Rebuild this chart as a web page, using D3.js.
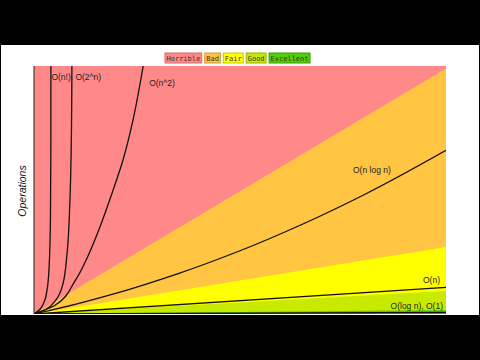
<!DOCTYPE html>
<html>
<head>
<meta charset="utf-8">
<script src="https://cdn.jsdelivr.net/npm/d3@7"></script>
<style>
  body { margin: 0; background: #000; }
  svg { display: block; }
</style>
</head>
<body>
<svg width="480" height="360"></svg>
<script>
// legend
var legendLabels = ["Horrible", "Bad", "Fair", "Good", "Excellent"];
var legendColors = ["#ff8989", "#ffc543", "#ffff00", "#c8ea00", "#53d000"];
var legendBorders = ["#d86a6a", "#d89a30", "#c8c800", "#98b000", "#3a9a00"];

// zones: upper edge of each zone at the right side (percent of height)
var zoneNames = ["Horrible", "Bad", "Fair", "Good", "Excellent"];
var zoneTops = [100, 99, 27, 9.3, 1.6];

// curves (x, y in percent of the plot)
var curveNames = ["O(n!)", "O(2^n)", "O(n^2)", "O(n log n)", "O(n)", "O(log n), O(1)"];
var factorialPts = [[0, 0], [1.5, 2], [2.5, 5], [3.2, 10], [3.7, 20], [4, 40], [4.1, 70], [4.1, 100]];
var expPts = [[0, 0], [3, 2], [5, 5], [7, 12], [8, 24], [8.7, 45], [9.1, 75], [9.2, 100]];
var squarePts = [[0, 0], [5, 3.4], [10, 13.5], [13, 23], [16, 35.1], [19, 49], [21.6, 62.1], [24, 78], [26.5, 100]];
var nlognPts = [[0, 0], [10, 3.9], [20, 8.4], [35, 16.3], [50, 25.5], [65, 36.1], [80, 48], [100, 66]];
var linearPts = [[0, 0], [100, 10.7]];
var logPts = [[0, 0], [100, 0.6]];

var svg = d3.select("svg"),
    margin = {left: 34, right: 34, top: 66, bottom: 46},
    width = 480 - margin.left - margin.right,
    height = 360 - margin.top - margin.bottom;

// white frame of the picture
svg.append("rect")
    .attr("x", 1).attr("y", 45)
    .attr("width", 478).attr("height", 270)
    .attr("fill", "#fff");

var x = d3.scaleLinear().domain([0, 100]).range([margin.left, margin.left + width]);
var y = d3.scaleLinear().domain([0, 100]).range([margin.top + height, margin.top]);

svg.append("clipPath").attr("id", "plot")
  .append("rect")
    .attr("x", margin.left).attr("y", margin.top)
    .attr("width", width).attr("height", height);

var g = svg.append("g").attr("clip-path", "url(#plot)");

// zones
g.selectAll("path.zone")
    .data(zoneTops)
    .enter().append("path")
    .attr("class", "zone")
    .attr("fill", function(d, i) { return legendColors[i]; })
    .attr("d", function(d, i) {
      if (i === 0) return "M" + x(0) + "," + y(0) + "L" + x(0) + "," + y(100) + "L" + x(100) + "," + y(100) + "L" + x(100) + "," + y(0) + "Z";
      return d3.line()([[x(0), y(0)], [x(100), y(d)], [x(100), y(0)]]) + "Z";
    });

var line = d3.line()
    .x(function(d) { return x(d[0]); })
    .y(function(d) { return y(d[1]); })
    .curve(d3.curveMonotoneY);

var curves = [factorialPts, expPts, squarePts, nlognPts, linearPts, logPts];

g.selectAll("path.curve")
    .data(curves)
    .enter().append("path")
    .attr("class", "curve")
    .attr("fill", "none")
    .attr("stroke", "#111")
    .attr("stroke-width", 1.3)
    .attr("d", line);

// y axis line
svg.append("line")
    .attr("x1", x(0)).attr("x2", x(0))
    .attr("y1", y(0)).attr("y2", y(100))
    .attr("stroke", "#222").attr("stroke-width", 1);

// curve labels
var labelFont = "'Liberation Sans', Arial, Helvetica, sans-serif";
var labelPos = [
  {x: x(4.1) + 0.5, y: 79.5, anchor: "start"},
  {x: x(9.2) + 3.5, y: 79.5, anchor: "start"},
  {x: x(26.5) + 6, y: 85.5, anchor: "start"},
  {x: 353, y: 172.5, anchor: "start"},
  {x: 440, y: 282.5, anchor: "end"},
  {x: 443, y: 308.5, anchor: "end"}
];
svg.selectAll("text.curve-label")
    .data(curveNames)
    .enter().append("text")
    .attr("class", "curve-label")
    .attr("x", function(d, i) { return labelPos[i].x; })
    .attr("y", function(d, i) { return labelPos[i].y; })
    .attr("text-anchor", function(d, i) { return labelPos[i].anchor; })
    .style("font-family", labelFont)
    .style("font-size", "8.5px")
    .style("fill", "#222")
    .text(function(d) { return d; });

// y axis title
svg.append("text")
    .attr("transform", "translate(25.5,191) rotate(-90)")
    .attr("text-anchor", "middle")
    .style("font-family", labelFont)
    .style("font-style", "italic")
    .style("font-size", "10.5px")
    .style("fill", "#111")
    .text("Operations");

// legend
var legend = svg.append("g");
var items = legend.selectAll("g")
    .data(legendLabels)
    .enter().append("g");
items.append("rect");
items.append("text")
    .style("font-family", "'DejaVu Sans Mono', monospace")
    .style("font-size", "7px")
    .style("fill", "#333")
    .attr("y", 60.5)
    .text(function(d) { return d; });

var widths = [];
items.select("text").each(function() { widths.push(this.getComputedTextLength() + 4); });
var gap = 2,
    total = d3.sum(widths) + gap * (widths.length - 1),
    left = 237.5 - total / 2,
    offsets = [];
widths.forEach(function(w, i) { offsets.push(left); left += w + gap; });

items.select("rect")
    .attr("x", function(d, i) { return offsets[i] + 0.5; })
    .attr("y", 53)
    .attr("width", function(d, i) { return widths[i] - 1; })
    .attr("height", 10)
    .attr("fill", function(d, i) { return legendColors[i]; })
    .attr("stroke", function(d, i) { return legendBorders[i]; })
    .attr("stroke-width", 1);
items.select("text")
    .attr("x", function(d, i) { return offsets[i] + 2; });
</script>
</body>
</html>
